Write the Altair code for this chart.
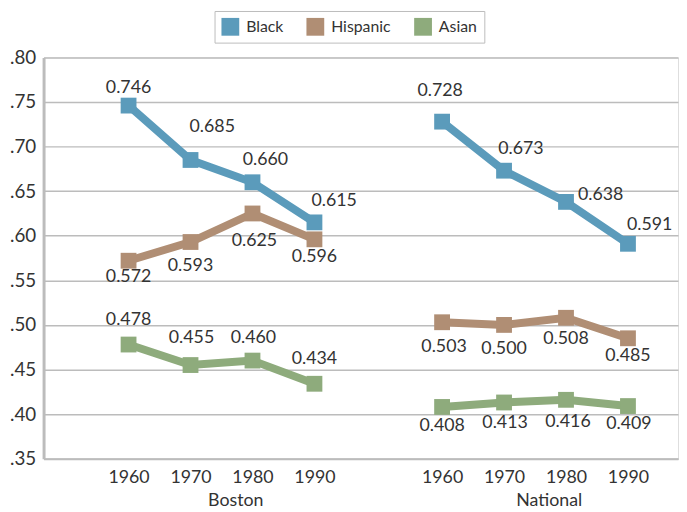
import altair as alt
import pandas as pd

# ---------------- data ----------------
years = [1960, 1970, 1980, 1990]
groups = ["Boston", "National"]
series = ["Black", "Hispanic", "Asian"]
colors = ["#5b9bbb", "#b08e74", "#8eab7c"]

boston_black = [0.746, 0.685, 0.660, 0.615]
boston_hispanic = [0.572, 0.593, 0.625, 0.596]
boston_asian = [0.478, 0.455, 0.460, 0.434]
national_black = [0.728, 0.673, 0.638, 0.591]
national_hispanic = [0.503, 0.500, 0.508, 0.485]
national_asian = [0.408, 0.413, 0.416, 0.409]

y_ticks = [0.35, 0.40, 0.45, 0.50, 0.55, 0.60, 0.65, 0.70, 0.75, 0.80]

# ---------------- label placement (pixels, relative to marker) ----------------
label_dx = {
    "Boston": {"Black": [0, 22, 13, 20], "Hispanic": [0, 0, 2, 0], "Asian": [0, 1, 1, 0]},
    "National": {"Black": [-2, 17, 35, 22], "Hispanic": [2, 0, 0, 0], "Asian": [0, 1, 2, 1]},
}
label_dy = {
    "Boston": {"Black": [-18, -33, -22, -22], "Hispanic": [17, 24, 28, 18], "Asian": [-25, -27, -23, -25]},
    "National": {"Black": [-31, -22, -7, -19], "Hispanic": [25, 24, 22, 18], "Asian": [19, 21, 23, 18]},
}

# ---------------- layout ----------------
W, H = 642, 406
Y_MIN, Y_MAX = 0.35, 0.80
UNIT = 62.7                      # pixels per year slot
X_MIN = -86 / UNIT
X_MAX = X_MIN + W / UNIT
GROUP_GAP = 5.06
GROUP_LABEL_SHIFT = 1.73
PPU_Y = H / (Y_MAX - Y_MIN)
FONT = "Lato"
TEXT = "#333333"
GRID = "#bcbcbc"

values = {
    "Boston": {"Black": boston_black, "Hispanic": boston_hispanic, "Asian": boston_asian},
    "National": {"Black": national_black, "Hispanic": national_hispanic, "Asian": national_asian},
}

rows = []
for gi, g in enumerate(groups):
    for s in series:
        for yi, yr in enumerate(years):
            rows.append({
                "group": g, "gi": gi, "series": s, "year": yr, "yi": yi,
                "value": values[g][s][yi],
                "label": f"{values[g][s][yi]:.3f}",
                "dx": label_dx[g][s][yi], "dy": label_dy[g][s][yi],
            })
df = pd.DataFrame(rows)
gdf = pd.DataFrame({"group": groups, "gi": list(range(len(groups)))})

slot_values = [gi * GROUP_GAP + yi for gi in range(len(groups)) for yi in range(len(years))]

base = alt.Chart(df).transform_calculate(
    slot=f"datum.yi + datum.gi * {GROUP_GAP}"
).transform_calculate(
    lx=f"datum.slot + datum.dx / {UNIT}",
    ly=f"datum.value - datum.dy / {PPU_Y}",
)

xscale = alt.Scale(domain=[X_MIN, X_MAX], nice=False, zero=False)
yscale = alt.Scale(domain=[Y_MIN, Y_MAX], nice=False, zero=False)

x_enc = alt.X(
    "slot:Q", scale=xscale,
    axis=alt.Axis(
        values=slot_values, title=None, grid=False, ticks=False,
        labelExpr="1960 + 10 * (round(datum.value) % 5)",
        labelFontSize=18, labelFont=FONT, labelColor=TEXT, labelPadding=10,
        labelOverlap=False, labelFlush=False,
        domainColor=GRID, domainWidth=2,
    ),
)
y_enc = alt.Y(
    "value:Q", scale=yscale,
    axis=alt.Axis(
        values=y_ticks, title=None, grid=True, gridColor=GRID, gridWidth=1.5,
        ticks=False, labelExpr="slice(format(datum.value, '.2f'), 1)",
        labelFontSize=19, labelFont=FONT, labelColor=TEXT, labelPadding=8,
        labelOverlap=False, labelFlush=False,
        domainColor=GRID, domainWidth=3,
    ),
)
color_scale = alt.Scale(domain=series, range=colors)

lines = base.mark_line(strokeWidth=8).encode(
    x=x_enc, y=y_enc,
    stroke=alt.Stroke("series:N", scale=color_scale, legend=None),
    detail="group:N",
)

points = base.mark_square(size=256, opacity=1).encode(
    x=alt.X("slot:Q", scale=xscale),
    y=alt.Y("value:Q", scale=yscale),
    fill=alt.Fill(
        "series:N", scale=color_scale,
        legend=alt.Legend(
            orient="none", legendX=173, legendY=-47, direction="horizontal",
            title=None, symbolType="square", symbolSize=324, symbolStrokeWidth=0,
            symbolOpacity=1,
            labelFontSize=16, labelFont=FONT, labelColor=TEXT, labelOffset=7,
            columnPadding=23, padding=7, strokeColor=GRID, fillColor="white",
        ),
    ),
)

labels = base.mark_text(fontSize=18, font=FONT, color=TEXT, baseline="middle").encode(
    x=alt.X("lx:Q", scale=xscale),
    y=alt.Y("ly:Q", scale=yscale),
    text="label:N",
)

group_labels = alt.Chart(gdf).transform_calculate(
    gslot=f"datum.gi * {GROUP_GAP} + {GROUP_LABEL_SHIFT}"
).mark_text(fontSize=18, font=FONT, color=TEXT, baseline="middle").encode(
    x=alt.X("gslot:Q", scale=xscale),
    y=alt.value(H + 43),
    text="group:N",
)

chart = alt.layer(lines, points, labels, group_labels).resolve_scale(
    stroke="independent", fill="independent"
).properties(
    width=W, height=H,
    autosize=alt.AutoSizeParams(type="none"),
    padding={"left": 36, "top": 47, "right": 1, "bottom": 56},
).configure_view(stroke=None).configure(font=FONT)

chart.save("out.html", embed_options={"renderer": "svg", "actions": False})
